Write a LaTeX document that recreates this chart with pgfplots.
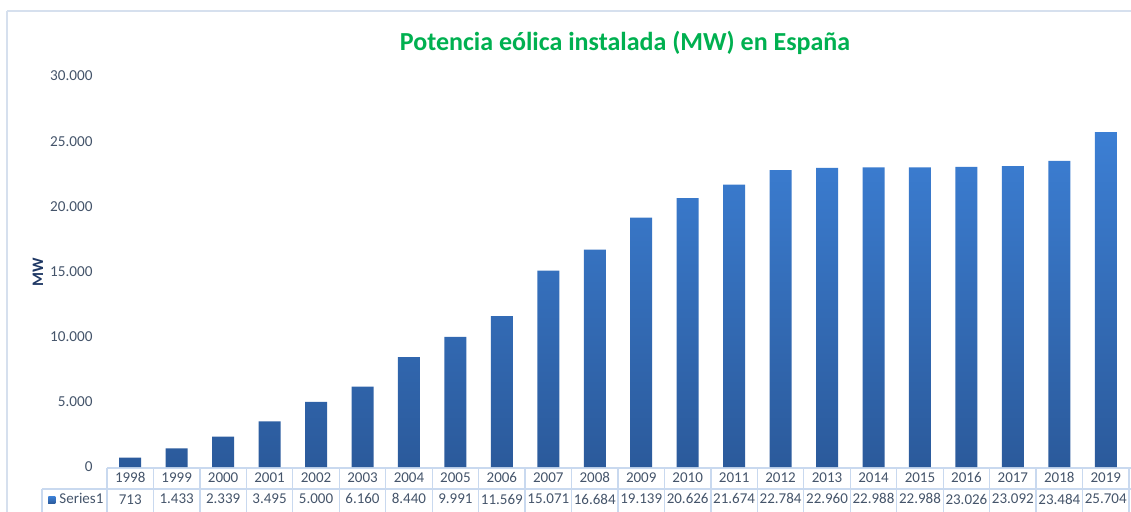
\documentclass[border=0pt]{standalone}
\usepackage{fontspec}
\setmainfont{Carlito}
\usepackage{pgfplots}
\pgfplotsset{compat=1.18}
\definecolor{titlegreen}{HTML}{00B050}
\definecolor{ticktext}{HTML}{44546A}
\definecolor{mwblue}{HTML}{1F3864}
\definecolor{tablec}{HTML}{C9D9EF}
\definecolor{framec}{HTML}{D6E0EE}
\definecolor{bartop}{HTML}{3C7FD4}
\definecolor{barbot}{HTML}{2B5A9B}
\definecolor{barmid}{HTML}{3570BE}
\begin{document}
\begin{tikzpicture}
\useasboundingbox (0,0) rectangle (565.5pt,-255.5pt);
\clip (0,0) rectangle (565.5pt,-255.5pt);
\begin{scope}[x=0.5pt,y=-0.5pt]
\draw[framec, line width=0.8pt] (7,11) -- (1140,11);
\draw[framec, line width=0.8pt] (7,11) -- (7,520);
\node[font=\fontsize{13}{15}\selectfont\bfseries, text=titlegreen] at (625,43) {Potencia eólica instalada (MW) en España};
\node[rotate=90, font=\fontsize{8}{10}\selectfont\bfseries, text=mwblue] at (38,272) {MW};
\foreach \k in {0,...,22} \draw[tablec, line width=0.6pt] ({107+\k*46.4545},468) -- ({107+\k*46.4545},520);
\draw[tablec, line width=0.6pt] (107,468) -- (1140,468);
\draw[tablec, line width=0.6pt] (42,489) -- (1140,489);
\draw[tablec, line width=0.6pt] (42,489) -- (42,520);
\end{scope}
\begin{axis}[
  at={(53.5pt,-233.5pt)}, anchor=south west,
  scale only axis, width=511pt, height=195.5pt,
  xmin=-0.5, xmax=21.5, ymin=0, ymax=30000,
  axis line style={draw=none},
  major tick length=0pt,
  ytick={0,5000,...,30000},
  scaled y ticks=false,
  /pgf/number format/.cd, 1000 sep={.}, assume math mode=true, /pgfplots/.cd,
  yticklabel style={font=\fontsize{7.6}{10}\selectfont, text=ticktext, inner sep=0pt, xshift=-7pt},
  xtick={0,...,21},
  xticklabels={{1998\\713},{1999\\1.433},{2000\\2.339},{2001\\3.495},{2002\\5.000},{2003\\6.160},{2004\\8.440},{2005\\9.991},{2006\\11.569},{2007\\15.071},{2008\\16.684},{2009\\19.139},{2010\\20.626},{2011\\21.674},{2012\\22.784},{2013\\22.960},{2014\\22.988},{2015\\22.988},{2016\\23.026},{2017\\23.092},{2018\\23.484},{2019\\25.704}},
  xticklabel style={font=\fontsize{7.5}{10.75}\selectfont, text=ticktext, align=center, inner sep=0pt, anchor=north, yshift=-2.5pt},
  clip=false,
  legend style={at={(rel axis cs:-0.0577,-0.0844)}, anchor=west, draw=none, fill=none, inner sep=0pt, font=\fontsize{7.5}{10}\selectfont, text=ticktext},
  legend cell align=left,
  legend image code/.code={\fill[barmid] (0pt,-1.75pt) rectangle (3.5pt,1.75pt);},
]
\addplot[ybar, bar width=11pt, draw=none, top color=bartop, bottom color=barbot] coordinates {
(0,713) (1,1433) (2,2339) (3,3495) (4,5000) (5,6160) (6,8440) (7,9991) (8,11569) (9,15071) (10,16684) (11,19139) (12,20626) (13,21674) (14,22784) (15,22960) (16,22988) (17,22988) (18,23026) (19,23092) (20,23484) (21,25704)};
\addlegendentry{Series1}
\end{axis}
\end{tikzpicture}
\end{document}
